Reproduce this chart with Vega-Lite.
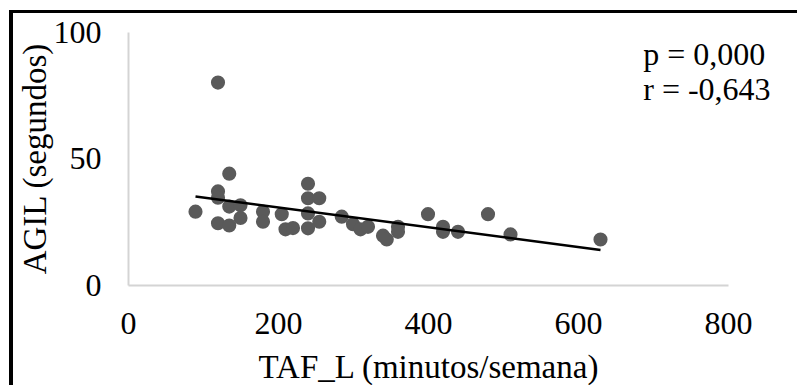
{
  "$schema": "https://vega.github.io/schema/vega-lite/v6.json",
  "width": 600,
  "height": 253,
  "autosize": {"type": "none"},
  "padding": {"left": 128, "top": 32, "right": 69, "bottom": 100},
  "background": "white",
  "config": {
    "view": {"stroke": null},
    "font": "Liberation Serif",
    "axis": {
      "grid": false,
      "ticks": false,
      "domainColor": "#d4d4d4",
      "domainWidth": 2,
      "labelFont": "Liberation Serif",
      "labelFontSize": 32,
      "labelColor": "#000000",
      "labelFlush": false,
      "labelOverlap": false,
      "titleFont": "Liberation Serif",
      "titleFontSize": 33,
      "titleFontWeight": "normal",
      "titleColor": "#000000"
    }
  },
  "data": {
    "values": [
      {"taf": 90, "agil": 29},
      {"taf": 120, "agil": 80},
      {"taf": 120, "agil": 37},
      {"taf": 120, "agil": 34.5},
      {"taf": 120, "agil": 24.4},
      {"taf": 135, "agil": 44},
      {"taf": 135, "agil": 31},
      {"taf": 135, "agil": 23.5},
      {"taf": 150, "agil": 31.5},
      {"taf": 150, "agil": 26.5},
      {"taf": 180, "agil": 29},
      {"taf": 180, "agil": 25},
      {"taf": 205, "agil": 28},
      {"taf": 210, "agil": 22},
      {"taf": 220, "agil": 22.5},
      {"taf": 240, "agil": 40},
      {"taf": 240, "agil": 34.3},
      {"taf": 240, "agil": 28.3},
      {"taf": 240, "agil": 22.4},
      {"taf": 255, "agil": 34.3},
      {"taf": 255, "agil": 25},
      {"taf": 285, "agil": 27},
      {"taf": 300, "agil": 24},
      {"taf": 310, "agil": 22},
      {"taf": 320, "agil": 23},
      {"taf": 340, "agil": 19.5},
      {"taf": 345, "agil": 18},
      {"taf": 360, "agil": 23},
      {"taf": 360, "agil": 21},
      {"taf": 400, "agil": 28},
      {"taf": 420, "agil": 23},
      {"taf": 420, "agil": 21},
      {"taf": 440, "agil": 21},
      {"taf": 480, "agil": 28},
      {"taf": 510, "agil": 20},
      {"taf": 630, "agil": 18}
    ]
  },
  "layer": [
    {
      "mark": {"type": "rect", "filled": false, "stroke": "#000000", "strokeWidth": 3, "clip": false},
      "encoding": {
        "x": {"datum": -156.4, "type": "quantitative", "scale": {"domain": [0, 800], "nice": false}},
        "x2": {"datum": 1100},
        "y": {"datum": 108.1, "type": "quantitative", "scale": {"domain": [0, 100], "nice": false}},
        "y2": {"datum": -60}
      }
    },
    {
      "mark": {"type": "circle", "size": 200, "color": "#5a5a5a", "opacity": 1},
      "encoding": {
        "x": {
          "field": "taf",
          "type": "quantitative",
          "scale": {"domain": [0, 800], "nice": false},
          "axis": {
            "values": [0, 200, 400, 600, 800],
            "labelPadding": 23,
            "title": "TAF_L (minutos/semana)",
            "titleX": 300,
            "titleY": 92,
            "titleBaseline": "alphabetic",
            "titleAnchor": "middle"
          }
        },
        "y": {
          "field": "agil",
          "type": "quantitative",
          "scale": {"domain": [0, 100], "nice": false},
          "axis": {
            "values": [0, 50, 100],
            "labelPadding": 27,
            "title": "AGIL (segundos)",
            "titleX": -83,
            "titleY": 126.5,
            "titleBaseline": "alphabetic",
            "titleAnchor": "middle",
            "titleAngle": -90
          }
        }
      }
    },
    {
      "transform": [{"regression": "agil", "on": "taf"}],
      "mark": {"type": "line", "color": "#000000", "strokeWidth": 2.5},
      "encoding": {
        "x": {"field": "taf", "type": "quantitative"},
        "y": {"field": "agil", "type": "quantitative"}
      }
    },
    {
      "data": {"values": [{"label": "stats"}]},
      "mark": {
        "type": "text",
        "text": ["p = 0,000", "r = -0,643"],
        "align": "left",
        "baseline": "alphabetic",
        "fontSize": 32,
        "lineHeight": 35,
        "font": "Liberation Serif",
        "color": "#000000"
      },
      "encoding": {
        "x": {"datum": 687, "type": "quantitative"},
        "y": {"datum": 87, "type": "quantitative"}
      }
    }
  ]
}
